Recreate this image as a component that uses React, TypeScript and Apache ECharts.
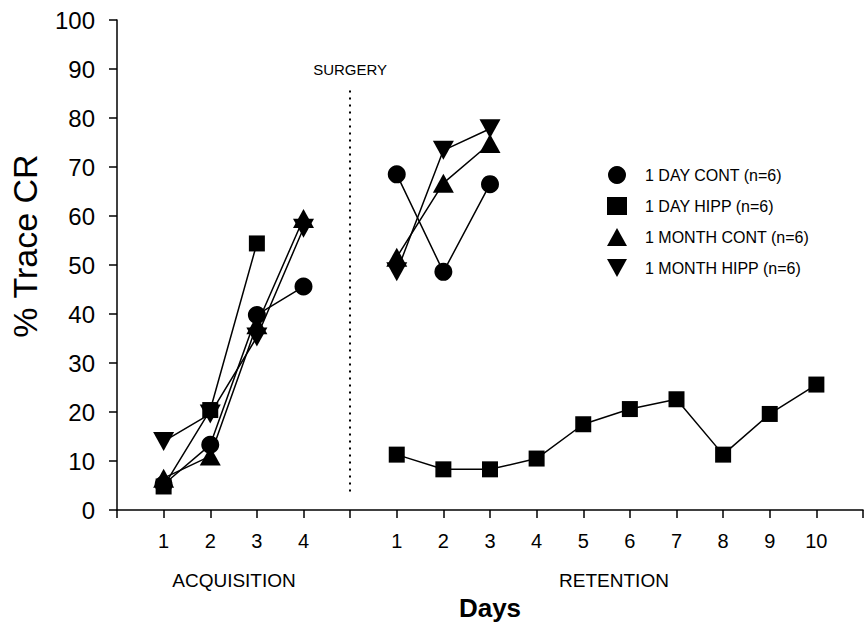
import React, { useEffect, useRef } from "react";
import * as echarts from "echarts";

// Day numbers
const acqDays = [1, 2, 3, 4];
const retDays = [1, 2, 3, 4, 5, 6, 7, 8, 9, 10];
const RET_OFFSET = 5; // retention day k is plotted at position 5 + k
const SURGERY_POS = 5;

// Series values (% Trace CR)
const dayContAcq = [5.2, 13.3, 39.8, 45.6];
const dayContRet = [68.5, 48.6, 66.5];
const dayHippAcq = [4.8, 20.4, 54.4];
const dayHippRet = [11.3, 8.3, 8.3, 10.5, 17.5, 20.6, 22.6, 11.3, 19.6, 25.6];
const monthContAcq = [6.5, 11, 37.8, 59.5];
const monthContRet = [51.6, 66.7, 74.8];
const monthHippAcq = [14, 19.6, 35.3, 57.5];
const monthHippRet = [48.6, 73.4, 77.8];

const names = [
  "1 DAY CONT (n=6)",
  "1 DAY HIPP (n=6)",
  "1 MONTH CONT (n=6)",
  "1 MONTH HIPP (n=6)",
];

const yTicks = [0, 10, 20, 30, 40, 50, 60, 70, 80, 90, 100];

const FONT = "'Liberation Sans', Arial, sans-serif";
const DOWN_TRI = "path://M0,0L20,0L10,18Z";

export default function App() {
  const ref = useRef<HTMLDivElement>(null);

  useEffect(() => {
    if (!ref.current) return;
    const chart = echarts.init(ref.current, null, { renderer: "svg" });

    const labelMap: Record<number, string> = {};
    acqDays.forEach((d) => (labelMap[d] = String(d)));
    retDays.forEach((d) => (labelMap[d + RET_OFFSET] = String(d)));

    const acqPts = (vals: number[]) => vals.map((v, i) => [acqDays[i], v]);
    const retPts = (vals: number[]) =>
      vals.map((v, i) => [retDays[i] + RET_OFFSET, v]);

    const symbols = ["circle", "rect", "triangle", DOWN_TRI];
    const sizes: any[] = [18, 16, [21, 19], [21, 19]];
    const groups = [
      [dayContAcq, dayContRet],
      [dayHippAcq, dayHippRet],
      [monthContAcq, monthContRet],
      [monthHippAcq, monthHippRet],
    ];

    const series: any[] = [];
    groups.forEach((g, k) => {
      [acqPts(g[0]), retPts(g[1])].forEach((data) => {
        series.push({
          type: "line",
          name: names[k],
          data,
          symbol: symbols[k],
          symbolSize: sizes[k],
          showAllSymbol: true,
          lineStyle: { color: "#000", width: 1.5 },
          itemStyle: { color: "#000" },
          silent: true,
        });
      });
    });

    series[0].markLine = {
      silent: true,
      symbol: ["none", "none"],
      animation: false,
      lineStyle: { color: "#000", type: [2, 5], width: 2 },
      label: {
        show: true,
        position: "end",
        formatter: "SURGERY",
        distance: 10,
        color: "#000",
        fontSize: 15,
        fontFamily: FONT,
      },
      data: [[{ coord: [SURGERY_POS, 3.8] }, { coord: [SURGERY_POS, 86.3] }]],
    };

    chart.setOption({
      animation: false,
      backgroundColor: "#fff",
      grid: { left: 117, top: 20, width: 752, height: 496, containLabel: false },
      legend: {
        orient: "vertical",
        left: 602,
        top: 161,
        itemWidth: 20,
        itemHeight: 18,
        itemGap: 13,
        selectedMode: false,
        textStyle: {
          fontSize: 16,
          fontFamily: FONT,
          color: "#000",
          padding: [0, 0, 0, 13],
        },
        data: names.map((n, k) => ({ name: n, icon: symbols[k] })),
      },
      xAxis: {
        type: "value",
        min: 0,
        max: 16,
        interval: 1,
        name: "Days",
        nameLocation: "middle",
        nameGap: 85,
        nameTextStyle: {
          fontSize: 26,
          fontWeight: "bold",
          fontFamily: FONT,
          color: "#000",
        },
        splitLine: { show: false },
        axisLine: { lineStyle: { color: "#000", width: 1.5 } },
        axisTick: { length: 8, lineStyle: { color: "#000", width: 1.5 } },
        axisLabel: {
          margin: 21,
          fontSize: 20,
          fontFamily: FONT,
          color: "#000",
          formatter: (v: number) => labelMap[v] ?? "",
        },
      },
      yAxis: {
        type: "value",
        min: yTicks[0],
        max: yTicks[yTicks.length - 1],
        interval: 10,
        splitLine: { show: false },
        axisLine: { show: true, lineStyle: { color: "#000", width: 1.5 } },
        axisTick: { show: true, length: 8, lineStyle: { color: "#000", width: 1.5 } },
        axisLabel: {
          margin: 22,
          fontSize: 24,
          fontFamily: FONT,
          color: "#000",
        },
      },
      graphic: [
        {
          type: "text",
          x: 25,
          y: 246,
          rotation: Math.PI / 2,
          style: {
            text: "% Trace CR",
            fontSize: 34,
            fontFamily: FONT,
            fill: "#000",
            align: "center",
            verticalAlign: "middle",
          },
        },
        {
          type: "text",
          x: 234,
          y: 580,
          style: {
            text: "ACQUISITION",
            fontSize: 19,
            fontFamily: FONT,
            fill: "#000",
            align: "center",
            verticalAlign: "middle",
          },
        },
        {
          type: "text",
          x: 614,
          y: 580,
          style: {
            text: "RETENTION",
            fontSize: 19,
            fontFamily: FONT,
            fill: "#000",
            align: "center",
            verticalAlign: "middle",
          },
        },
      ],
      series,
    });

    return () => chart.dispose();
  }, []);

  return (
    <div
      ref={ref}
      style={{ position: "absolute", left: 0, top: 0, width: 866, height: 626 }}
    />
  );
}
